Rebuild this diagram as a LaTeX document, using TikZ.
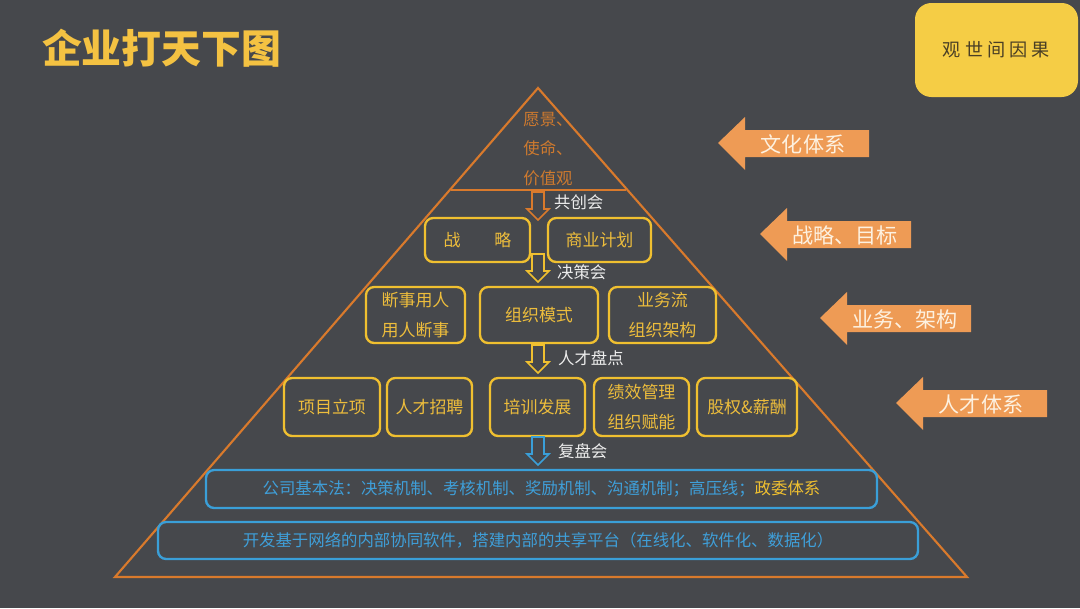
\documentclass[tikz,border=0pt]{standalone}
\usepackage{fontspec}
\setmainfont{Noto Sans CJK SC}
\definecolor{bgdark}{HTML}{46484C}
\definecolor{titleyellow}{HTML}{F4C242}
\definecolor{noteyellow}{HTML}{F5CD45}
\definecolor{notetext}{HTML}{4A3F25}
\definecolor{pyrorange}{HTML}{D97A2C}
\definecolor{pyrtext}{HTML}{CF7A2E}
\definecolor{boxyellow}{HTML}{F0C030}
\definecolor{boxtext}{HTML}{EDBD3C}
\definecolor{lineblue}{HTML}{3A9FD8}
\definecolor{bluetext}{HTML}{3F9FD9}
\definecolor{arrfill}{HTML}{EE9B55}
\definecolor{arrtext}{HTML}{FDF1E0}
\definecolor{labwhite}{HTML}{EDEDED}

\begin{document}
\begin{tikzpicture}[x=0.03cm, y=-0.03cm,
  ybox/.style={draw=boxyellow, line width=2pt, rounded corners=7pt, text=boxtext,
    align=center, inner sep=0pt, font=\fontsize{14.5}{25}\selectfont},
  bbox/.style={draw=lineblue, line width=2pt, rounded corners=7pt, text=bluetext,
    inner sep=0pt, font=\fontsize{14}{16}\selectfont},
  lab/.style={anchor=west, text=labwhite, font=\fontsize{14}{16}\selectfont},
  sidetext/.style={text=arrtext, font=\fontsize{18}{20}\selectfont}]
\useasboundingbox (0,0) rectangle (1080,608);
\fill[bgdark] (0,0) rectangle (1080,608);

% title and note
\node[anchor=west, text=titleyellow, font=\fontsize{34}{34}\selectfont\bfseries] (title) at (38,48) {企业打天下图};
\node[fill=noteyellow, rounded corners=14pt, minimum width=4.89cm, minimum height=2.82cm,
  text=notetext, font=\fontsize{15.5}{16}\selectfont] (note) at (996.5,50) {观 世 间 因 果};

% pyramid
\coordinate (apex) at (538,88);
\coordinate (baseR) at (967,577);
\coordinate (baseL) at (115,577);
\draw[pyrorange, line width=1.8pt] (apex) -- (baseR) -- (baseL) -- cycle;
\draw[pyrorange, line width=1.5pt] (451,190) -- (626,190);
\node[align=left, text=pyrtext, font=\fontsize{14}{25.5}\selectfont] (vision) at (548,149) {愿景、\\使命、\\价值观};

% row 1
\node[ybox, minimum width=3.15cm, minimum height=1.32cm] (strat) at (477.5,240) {战\hspace{2em}略};
\node[ybox, minimum width=3.09cm, minimum height=1.32cm] (plan) at (599.5,240) {商业计划};

% row 2
\node[ybox, minimum width=2.97cm, minimum height=1.68cm] (judge) at (415.5,315) {断事用人\\用人断事};
\node[ybox, minimum width=3.54cm, minimum height=1.68cm] (mode) at (539,315) {组织模式};
\node[ybox, minimum width=3.21cm, minimum height=1.68cm] (flow) at (662.5,315) {业务流\\组织架构};

% row 3
\node[ybox, minimum width=2.88cm, minimum height=1.74cm] (proj) at (332,407) {项目立项};
\node[ybox, minimum width=2.55cm, minimum height=1.74cm] (hire) at (429.5,407) {人才招聘};
\node[ybox, minimum width=2.85cm, minimum height=1.74cm] (train) at (537.5,407) {培训发展};
\node[ybox, minimum width=2.85cm, minimum height=1.74cm] (perf) at (641.5,407) {绩效管理\\组织赋能};
\node[ybox, minimum width=3.0cm, minimum height=1.74cm] (equity) at (747,407) {股权\&薪酬};

% base rows
\node[bbox, minimum width=20.13cm, minimum height=1.14cm] (law) at (541.5,489)
  {公司基本法：决策机制、考核机制、奖励机制、沟通机制；高压线；{\color{boxyellow}政委体系}};
\node[bbox, minimum width=22.8cm, minimum height=1.11cm] (soft) at (538,540.5)
  {开发基于网络的内部协同软件，搭建内部的共享平台（在线化、软件化、数据化）};

% hollow arrows between levels
\foreach \ya/\col in {192/pyrorange, 254/boxyellow, 345/boxyellow, 437/lineblue}
  \draw[\col, line width=1.3pt, line join=miter] (538,\ya) ++(-6,0) -- ++(12,0) -- ++(0,17)
    -- ++(5,0) -- ++(-11,11) -- ++(-11,-11) -- ++(5,0) -- cycle;
\node[lab] (meet1) at (550,202) {共创会};
\node[lab] (meet2) at (553,272) {决策会};
\node[lab] (meet3) at (554,358) {人才盘点};
\node[lab] (meet4) at (554,451) {复盘会};

% side arrows
\foreach \tx/\ty/\lab [count=\i] in {718/143/文化体系, 760/234/战略、目标, 820/318/业务、架构, 896/403/人才体系} {
  \fill[arrfill] (\tx,\ty) -- ++(27,-26) -- ++(0,13) -- ++(124,0) -- ++(0,27)
    -- ++(-124,0) -- ++(0,13) -- cycle;
  \node[sidetext] (side\i) at (\tx+85,\ty+1) {\lab};
}
\end{tikzpicture}
\end{document}
